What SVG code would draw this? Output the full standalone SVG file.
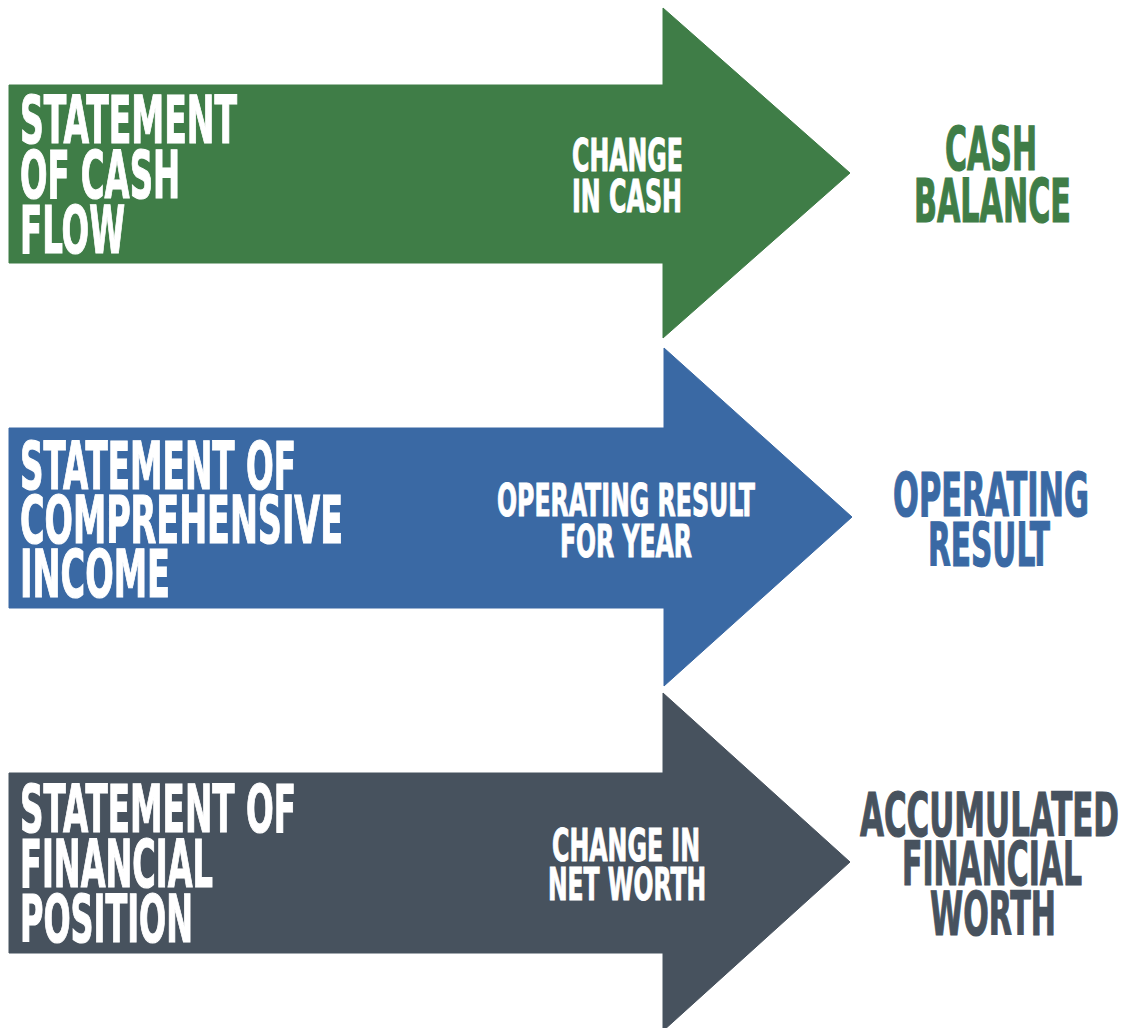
<svg xmlns="http://www.w3.org/2000/svg" width="1129" height="1028" viewBox="0 0 1129 1028">
<style>
  text { font-family: 'Liberation Sans Narrow', 'DejaVu Sans Condensed', 'Liberation Sans', sans-serif; font-weight: bold; }
  .big { font-size: 66px; fill: #ffffff; stroke: #ffffff; stroke-width: 1.2px; }
  .mid { font-size: 45px; fill: #ffffff; stroke: #ffffff; stroke-width: 1px; }
  .res { font-size: 61px; stroke-width: 1.2px; }
  .green { fill: #3f7d47; stroke: #3f7d47; }
  .blue { fill: #3a69a4; stroke: #3a69a4; }
  .slate { fill: #47525e; stroke: #47525e; }
  polygon { stroke: none; }
</style>
<rect width="1129" height="1028" fill="#ffffff"/>

<g id="cash-flow-arrow">
  <polygon class="green" points="9,85 663,85 663,8 850,173 663,338 663,263 9,263"/>
  <text class="big" x="20" y="143" textLength="217" lengthAdjust="spacingAndGlyphs">STATEMENT</text>
  <text class="big" x="20" y="198" textLength="160" lengthAdjust="spacingAndGlyphs">OF CASH</text>
  <text class="big" x="20" y="253" textLength="105" lengthAdjust="spacingAndGlyphs">FLOW</text>
  <text class="mid" x="572" y="171" textLength="111" lengthAdjust="spacingAndGlyphs">CHANGE</text>
  <text class="mid" x="572" y="212" textLength="110" lengthAdjust="spacingAndGlyphs">IN CASH</text>
</g>

<g id="comprehensive-income-arrow">
  <polygon class="blue" points="9,428 664,428 664,348 852,517 664,686 664,608 9,608"/>
  <text class="big" x="20" y="489" textLength="276" lengthAdjust="spacingAndGlyphs">STATEMENT OF</text>
  <text class="big" x="20" y="543" textLength="323" lengthAdjust="spacingAndGlyphs">COMPREHENSIVE</text>
  <text class="big" x="20" y="597" textLength="150" lengthAdjust="spacingAndGlyphs">INCOME</text>
  <text class="mid" x="497" y="516" textLength="258" lengthAdjust="spacingAndGlyphs">OPERATING RESULT</text>
  <text class="mid" x="560" y="557" textLength="132" lengthAdjust="spacingAndGlyphs">FOR YEAR</text>
</g>

<g id="financial-position-arrow">
  <polygon class="slate" points="9,773 663,773 663,693 850,862 663,1031 663,953 9,953"/>
  <text class="big" x="20" y="832" textLength="276" lengthAdjust="spacingAndGlyphs">STATEMENT OF</text>
  <text class="big" x="20" y="887" textLength="193" lengthAdjust="spacingAndGlyphs">FINANCIAL</text>
  <text class="big" x="20" y="942" textLength="173" lengthAdjust="spacingAndGlyphs">POSITION</text>
  <text class="mid" x="552" y="861" textLength="148" lengthAdjust="spacingAndGlyphs">CHANGE IN</text>
  <text class="mid" x="548" y="900" textLength="158" lengthAdjust="spacingAndGlyphs">NET WORTH</text>
</g>

<g id="cash-balance">
  <text class="res green" x="945" y="170" textLength="92" lengthAdjust="spacingAndGlyphs">CASH</text>
  <text class="res green" x="914" y="222" textLength="157" lengthAdjust="spacingAndGlyphs">BALANCE</text>
</g>

<g id="operating-result">
  <text class="res blue" x="893" y="516" textLength="196" lengthAdjust="spacingAndGlyphs">OPERATING</text>
  <text class="res blue" x="928" y="566" textLength="122" lengthAdjust="spacingAndGlyphs">RESULT</text>
</g>

<g id="accumulated-financial-worth">
  <text class="res slate" x="860" y="836" textLength="259" lengthAdjust="spacingAndGlyphs">ACCUMULATED</text>
  <text class="res slate" x="902" y="885" textLength="180" lengthAdjust="spacingAndGlyphs">FINANCIAL</text>
  <text class="res slate" x="930" y="935" textLength="126" lengthAdjust="spacingAndGlyphs">WORTH</text>
</g>

<g id="connectors"></g>
</svg>
